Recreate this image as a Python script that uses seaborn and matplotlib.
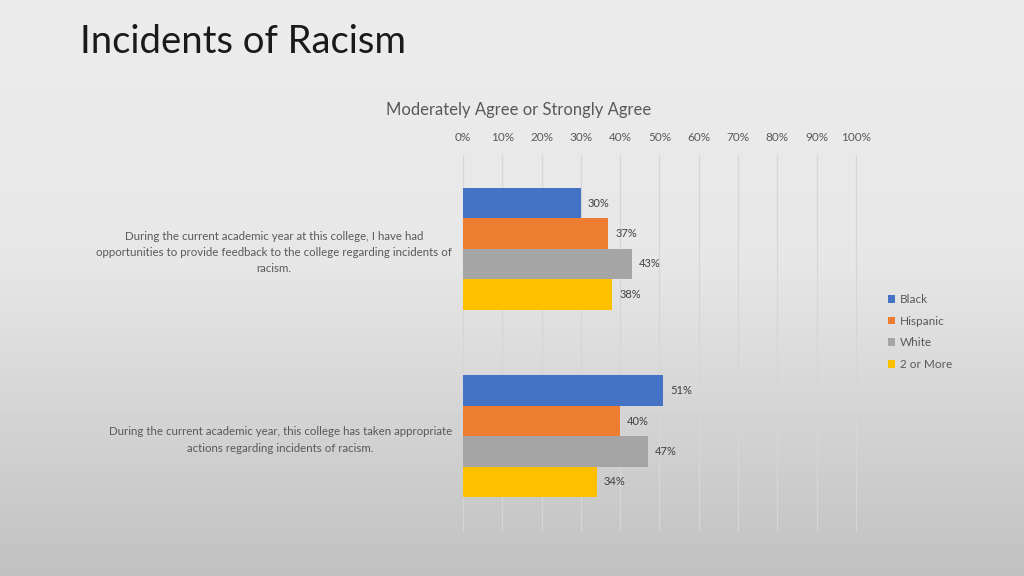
import numpy as np
import pandas as pd
import matplotlib
matplotlib.use("Agg")
import matplotlib.pyplot as plt
import seaborn as sns

questions = [
    "During the current academic year at this college, I have had\nopportunities to provide feedback to the college regarding incidents of\nracism.",
    "During the current academic year, this college has taken appropriate\nactions regarding incidents of racism.",
]
groups = ["Black", "Hispanic", "White", "2 or More"]
black = [30, 51]
hispanic = [37, 40]
white = [43, 47]
two_or_more = [38, 34]
palette = ["#4472C4", "#ED7D31", "#A5A5A5", "#FFC000"]

rows = []
for g, vals in zip(groups, [black, hispanic, white, two_or_more]):
    for q, v in zip(questions, vals):
        rows.append({"Question": q, "Group": g, "Value": v})
df = pd.DataFrame(rows)

sns.set_theme(style="white")
plt.rcParams["font.family"] = ["Lato", "DejaVu Sans"]

fig = plt.figure(figsize=(10.24, 5.76), dpi=100)

# background gradient
bg = fig.add_axes([0, 0, 1, 1], zorder=-10)
t = np.linspace(0, 1, 576)
vals = np.where(t < 0.45, 0.925 - (0.925 - 0.905) * t / 0.45,
                0.905 - (0.905 - 0.755) * (t - 0.45) / 0.55)
img = np.repeat(vals[:, None], 2, axis=1)
bg.imshow(img, cmap="gray", vmin=0, vmax=1, aspect="auto", extent=[0, 1, 0, 1])
bg.axis("off")

ax = fig.add_axes([0.4521, 0.0799, 0.8359 - 0.4521, 0.7309 - 0.0799])
ax.patch.set_alpha(0)
sns.barplot(data=df, y="Question", x="Value", hue="Group", hue_order=groups,
            palette=palette, width=0.65, ax=ax, saturation=1, legend=True,
            linewidth=0, edgecolor="none")

ax.set_xlim(0, 100)
ax.xaxis.tick_top()
ax.set_xticks(np.arange(0, 101, 10))
ax.set_xticklabels([f"{v}%" for v in range(0, 101, 10)], color="#595959", fontsize=8.5)
ax.tick_params(axis="x", length=0, pad=9)
ax.tick_params(axis="y", length=0, pad=8)
for lbl in ax.get_yticklabels():
    lbl.set_multialignment("center")
    lbl.set_color("#595959")
    lbl.set_fontsize(8.3)
    lbl.set_linespacing(1.6)
    x, y = lbl.get_position()
ax.set_xlabel("")
ax.set_ylabel("")
ax.grid(axis="x", color="#d6d6d6", linewidth=0.9)
for gl in ax.get_xgridlines():
    gl.set_clip_on(False)
ax.set_axisbelow(True)
for s in ax.spines.values():
    s.set_visible(False)

for cont in ax.containers:
    ax.bar_label(cont, labels=[f"{int(v)}%" for v in cont.datavalues],
                 padding=5, fontsize=8, color="#404040")

leg = ax.legend(loc="center left", bbox_to_anchor=(1.055, 0.528), frameon=False,
                fontsize=8.5, handlelength=0.6, handleheight=0.6, handletextpad=0.4,
                labelspacing=0.9)
for txt in leg.get_texts():
    txt.set_color("#595959")

fig.text(0.5068, 1 - 110 / 576, "Moderately Agree or Strongly Agree", ha="center",
         va="center", fontsize=12, color="#595959")
fig.text(80 / 1024, 1 - 42 / 576, "Incidents of Racism", ha="left", va="center",
         fontsize=27.5, color="#1a1a1a")

fig.savefig("out.png", dpi=100)
